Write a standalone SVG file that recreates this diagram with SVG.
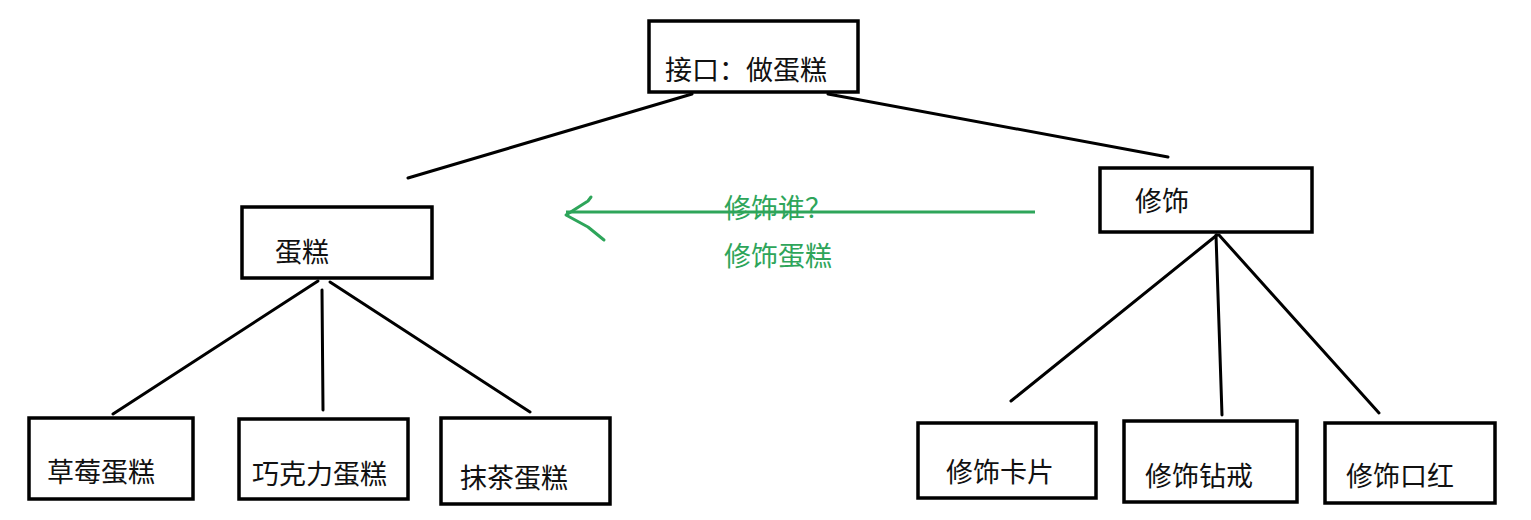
<svg xmlns="http://www.w3.org/2000/svg" width="1531" height="520" viewBox="0 0 1531 520">
<style>
.box{fill:#fff;stroke:#000;stroke-width:3.5}
.lbl{font-family:"Noto Sans CJK SC",sans-serif;font-size:27px;fill:#111}
.con{stroke:#000;stroke-width:3;fill:none;stroke-linecap:round}
.g{font-family:"Noto Sans CJK SC",sans-serif;font-size:27px;fill:#2ea55a}
</style>
<rect width="1531" height="520" fill="#fff"/>
<g id="connectors">
<line class="con" x1="692" y1="94" x2="408" y2="178"/>
<line class="con" x1="828" y1="94" x2="1168" y2="157"/>
<line class="con" x1="318" y1="281" x2="113" y2="414"/>
<line class="con" x1="322" y1="290" x2="323" y2="410"/>
<line class="con" x1="330" y1="282" x2="530" y2="412"/>
<line class="con" x1="1217" y1="235" x2="1011" y2="401"/>
<line class="con" x1="1216" y1="235" x2="1222" y2="415"/>
<line class="con" x1="1219" y1="235" x2="1379" y2="413"/>
</g>
<g id="green-arrow">
<line x1="566" y1="212" x2="1035" y2="212" stroke="#2ea55a" stroke-width="3"/>
<path d="M591 197 L588 201 L566 215 L588 227 L604 240" fill="none" stroke="#2ea55a" stroke-width="3" stroke-linecap="round" stroke-linejoin="round"/>
<text class="g" x="724" y="218">修饰谁？</text>
<text class="g" x="724" y="266">修饰蛋糕</text>
</g>
<g id="n-interface"><rect class="box" x="649" y="21" width="209" height="71"/><text class="lbl" x="665" y="80">接口：做蛋糕</text></g>
<g id="n-cake"><rect class="box" x="242" y="207" width="190" height="71"/><text class="lbl" x="275" y="262">蛋糕</text></g>
<g id="n-strawberry"><rect class="box" x="29" y="418" width="164" height="81"/><text class="lbl" x="47" y="482">草莓蛋糕</text></g>
<g id="n-chocolate"><rect class="box" x="239" y="419" width="169" height="80"/><text class="lbl" x="252" y="484">巧克力蛋糕</text></g>
<g id="n-matcha"><rect class="box" x="441" y="418" width="169" height="86"/><text class="lbl" x="460" y="488">抹茶蛋糕</text></g>
<g id="n-decorate"><rect class="box" x="1100" y="168" width="212" height="64"/><text class="lbl" x="1135" y="211">修饰</text></g>
<g id="n-card"><rect class="box" x="918" y="423" width="178" height="75"/><text class="lbl" x="946" y="482">修饰卡片</text></g>
<g id="n-ring"><rect class="box" x="1124" y="421" width="173" height="81"/><text class="lbl" x="1145" y="486">修饰钻戒</text></g>
<g id="n-lipstick"><rect class="box" x="1325" y="423" width="170" height="80"/><text class="lbl" x="1346" y="486">修饰口红</text></g>
</svg>
